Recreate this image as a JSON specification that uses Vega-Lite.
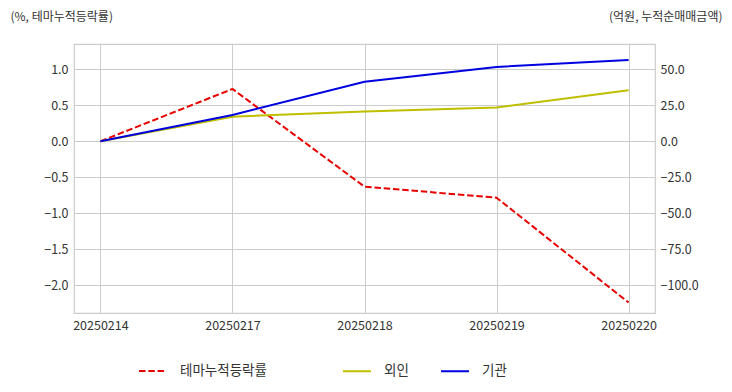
{
  "$schema": "https://vega.github.io/schema/vega-lite/v6.json",
  "width": 581,
  "height": 269,
  "autosize": {"type": "none"},
  "padding": {"left": 74, "top": 44, "right": 77, "bottom": 79},
  "background": "white",
  "config": {
    "font": "Noto Sans CJK KR",
    "view": {"stroke": "#cccccc", "strokeWidth": 1.2},
    "axis": {
      "labelFont": "Noto Sans CJK KR",
      "labelFontSize": 12.5,
      "labelColor": "#333333",
      "titleFont": "Noto Sans CJK KR",
      "titleColor": "#333333",
      "titleFontWeight": "normal",
      "titleFontSize": 12,
      "domain": false,
      "ticks": false,
      "gridColor": "#cccccc",
      "gridWidth": 1
    },
    "legend": {
      "labelFont": "Noto Sans CJK KR",
      "labelFontSize": 13.5,
      "labelColor": "#333333",
      "symbolType": "stroke",
      "symbolSize": 784,
      "symbolStrokeWidth": 2,
      "labelOffset": 12,
      "padding": 0,
      "rowPadding": 0
    }
  },
  "data": {
    "values": [
      {"date": "20250214", "theme": 0.0, "foreign": 0.0, "inst": 0.0},
      {"date": "20250217", "theme": 0.726, "foreign": 17.1, "inst": 18.3},
      {"date": "20250218", "theme": -0.63, "foreign": 20.6, "inst": 41.4},
      {"date": "20250219", "theme": -0.783, "foreign": 23.4, "inst": 51.6},
      {"date": "20250220", "theme": -2.24, "foreign": 35.4, "inst": 56.5}
    ]
  },
  "encoding": {
    "x": {
      "field": "date",
      "type": "ordinal",
      "scale": {"type": "point", "padding": 0.2},
      "axis": {"title": null, "labelAngle": 0, "labelPadding": 6, "grid": true}
    }
  },
  "layer": [
    {
      "transform": [{"calculate": "'테마누적등락률'", "as": "series"}],
      "mark": {"type": "line", "strokeWidth": 2, "strokeDash": [6.5, 2.8]},
      "encoding": {
        "y": {
          "field": "theme",
          "type": "quantitative",
          "scale": {"domain": [-2.385, 1.351], "nice": false, "zero": false},
          "axis": {
            "values": [-2, -1.5, -1, -0.5, 0, 0.5, 1],
            "format": ".1f",
            "grid": true,
            "labelPadding": 6,
            "title": "(%, 테마누적등락률)",
            "titleAngle": 0,
            "titleAlign": "left",
            "titleBaseline": "middle",
            "titleX": -64,
            "titleY": -28
          }
        },
        "color": {
          "field": "series",
          "type": "nominal",
          "scale": {"domain": ["테마누적등락률"], "range": ["#e80000"]},
          "legend": {
            "title": null,
            "orient": "none",
            "legendX": 64,
            "legendY": 312,
            "symbolDash": [6.5, 2.8]
          }
        }
      }
    },
    {
      "transform": [
        {"fold": ["foreign", "inst"], "as": ["key", "amount"]},
        {"calculate": "datum.key === 'foreign' ? '외인' : '기관'", "as": "series"}
      ],
      "mark": {"type": "line", "strokeWidth": 2},
      "encoding": {
        "y": {
          "field": "amount",
          "type": "quantitative",
          "scale": {"domain": [-119.25, 67.55], "nice": false, "zero": false},
          "axis": {
            "orient": "right",
            "values": [-100, -75, -50, -25, 0, 25, 50],
            "format": ".1f",
            "grid": false,
            "labelPadding": 5,
            "title": "(억원, 누적순매매금액)",
            "titleAngle": 0,
            "titleAlign": "right",
            "titleBaseline": "middle",
            "titleX": 67,
            "titleY": -28
          }
        },
        "color": {
          "field": "series",
          "type": "nominal",
          "scale": {"domain": ["외인", "기관"], "range": ["#bfbf00", "#0000e0"]},
          "legend": {
            "title": null,
            "orient": "none",
            "direction": "horizontal",
            "legendX": 268,
            "legendY": 312,
            "columnPadding": 28
          }
        }
      }
    }
  ],
  "resolve": {
    "scale": {"y": "independent", "color": "independent"},
    "legend": {"color": "independent"}
  }
}
